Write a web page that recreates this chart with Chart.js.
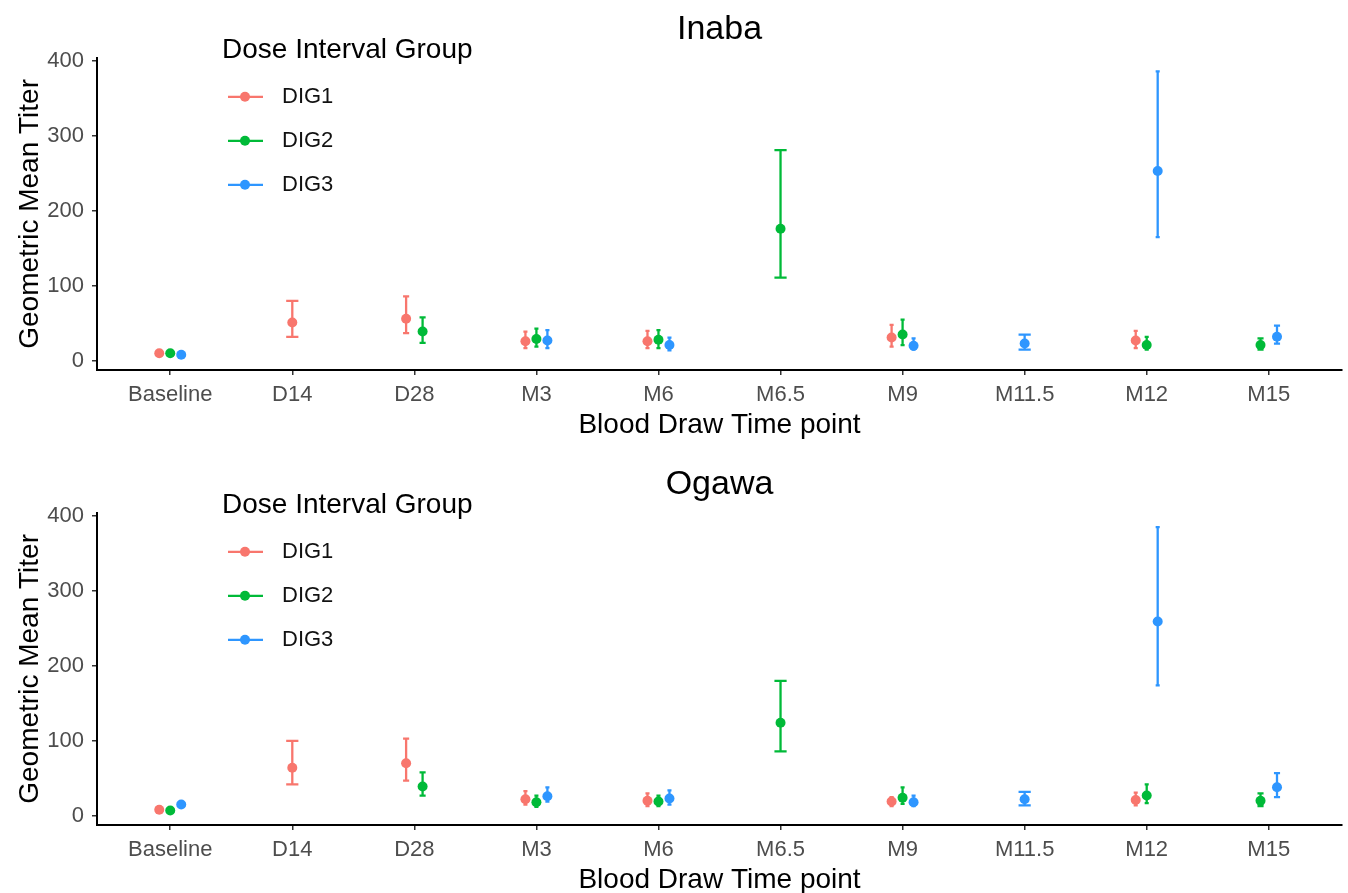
<!DOCTYPE html>
<html>
<head>
<meta charset="utf-8">
<title>Geometric Mean Titer - Inaba / Ogawa</title>
<script src="https://cdn.jsdelivr.net/npm/chart.js@4.4.1/dist/chart.umd.min.js"></script>
<style>
  html, body { margin: 0; padding: 0; background: #fff; overflow: hidden; }
  .panel { width: 1348px; height: 455px; }
</style>
</head>
<body>
<div class="panel"><canvas id="chart_inaba" width="1348" height="455"></canvas></div>
<div class="panel"><canvas id="chart_ogawa" width="1348" height="455"></canvas></div>
<script>

/*--------DATOS-----------*/
var timepoints = ['Baseline','D14','D28','M3','M6','M6.5','M9','M11.5','M12','M15'];
var groups = ['DIG1','DIG2','DIG3'];
var yTicks = [0, 100, 200, 300, 400];

/*--------INABA-----------*/
var inaba_dig1    = [10, 51, 56, 26, 26, null, 31, null, 27, null];
var inaba_dig1_lo = [8, 32, 37, 17, 17, null, 19, null, 17, null];
var inaba_dig1_hi = [12, 80, 86, 39, 40, null, 48, null, 40, null];

var inaba_dig2    = [10, null, 39, 29, 28, 176, 35, null, 21, 21];
var inaba_dig2_lo = [8, null, 24, 19, 17, 111, 21, null, 15, 15];
var inaba_dig2_hi = [12, null, 58, 43, 41, 281, 55, null, 32, 30];

var inaba_dig3    = [8, null, null, 27, 21, null, 20, 23, 253, 32];
var inaba_dig3_lo = [6, null, null, 17, 14, null, 15, 15, 165, 23];
var inaba_dig3_hi = [10, null, null, 41, 31, null, 30, 35, 386, 47];

/*--------OGAWA-----------*/
var ogawa_dig1    = [8, 64, 70, 22, 20, null, 19, null, 21, null];
var ogawa_dig1_lo = [7, 42, 47, 15, 13, null, 13, null, 14, null];
var ogawa_dig1_hi = [10, 100, 103, 33, 30, null, 25, null, 31, null];

var ogawa_dig2    = [7, null, 39, 18, 19, 124, 24, null, 27, 20];
var ogawa_dig2_lo = [6, null, 27, 12, 13, 86, 16, null, 17, 13];
var ogawa_dig2_hi = [9, null, 58, 27, 27, 180, 38, null, 42, 30];

var ogawa_dig3    = [15, null, null, 26, 23, null, 18, 22, 259, 38];
var ogawa_dig3_lo = [13, null, null, 19, 15, null, 13, 14, 174, 25];
var ogawa_dig3_hi = [18, null, null, 38, 34, null, 27, 32, 385, 57];

var colores = ['#F8766D', '#00BA38', '#2E96FF'];
var dodge = 0.27;     // ancho total del dodge (unidades de categoria)
var capWidth = 0.1;   // ancho de la barra de error

var fam = "'Liberation Sans', Arial, Helvetica, sans-serif";
Chart.defaults.font.family = fam;

/*--------DATASETS con dodge como ggplot-----------*/
function buildSets(gmt, lo, hi) {
  return groups.map(function (g, k) {
    var pts = [];
    timepoints.forEach(function (t, i) {
      if (gmt[k][i] == null) return;
      var present = [];
      for (var j = 0; j < groups.length; j++) {
        if (gmt[j][i] != null) present.push(j);
      }
      var n = present.length;
      var r = present.indexOf(k);
      pts.push({ x: i + (r - (n - 1) / 2) * dodge / n, y: gmt[k][i], lo: lo[k][i], hi: hi[k][i], n: n });
    });
    return {
      label: g,
      data: pts,
      backgroundColor: colores[k],
      borderColor: colores[k],
      pointRadius: 5,
      pointBorderWidth: 0,
      showLine: false
    };
  });
}

/*--------PLUGIN BARRAS DE ERROR-----------*/
var errorBars = {
  id: 'errorBars',
  beforeDatasetsDraw: function (chart) {
    var ctx = chart.ctx, xs = chart.scales.x, ys = chart.scales.y;
    ctx.save();
    chart.data.datasets.forEach(function (ds, k) {
      var meta = chart.getDatasetMeta(k);
      ctx.strokeStyle = ds.borderColor;
      ctx.lineWidth = 2.3;
      meta.data.forEach(function (pt, i) {
        var d = ds.data[i];
        var yl = ys.getPixelForValue(d.lo);
        var yh = ys.getPixelForValue(d.hi);
        var half = (xs.getPixelForValue(capWidth / d.n) - xs.getPixelForValue(0)) / 2;
        ctx.beginPath();
        ctx.moveTo(pt.x, yl); ctx.lineTo(pt.x, yh);
        ctx.moveTo(pt.x - half, yl); ctx.lineTo(pt.x + half, yl);
        ctx.moveTo(pt.x - half, yh); ctx.lineTo(pt.x + half, yh);
        ctx.stroke();
      });
    });
    ctx.restore();
  }
};

/*--------PLUGIN LEYENDA DENTRO DEL GRAFICO-----------*/
var insetLegend = {
  id: 'insetLegend',
  afterDraw: function (chart, args, opts) {
    var ctx = chart.ctx, area = chart.chartArea;
    var x0 = area.left + opts.dx, y0 = area.top + opts.dy;
    ctx.save();
    ctx.textBaseline = 'middle';
    ctx.textAlign = 'left';
    ctx.fillStyle = '#000';
    ctx.font = '28px ' + fam;
    ctx.fillText(opts.title, x0, y0);
    ctx.font = '22px ' + fam;
    chart.data.datasets.forEach(function (ds, k) {
      var y = y0 + 47 + k * 44;
      ctx.strokeStyle = ds.borderColor;
      ctx.fillStyle = ds.borderColor;
      ctx.lineWidth = 2.3;
      ctx.beginPath();
      ctx.moveTo(x0 + 6, y); ctx.lineTo(x0 + 41, y);
      ctx.stroke();
      ctx.beginPath();
      ctx.arc(x0 + 23, y, 5, 0, Math.PI * 2);
      ctx.fill();
      ctx.fillStyle = '#111';
      ctx.fillText(ds.label, x0 + 60, y);
    });
    ctx.restore();
  }
};

function makeChart(id, titulo, sets) {
  var ctx = document.getElementById(id);
  return new Chart(ctx, {
    type: 'scatter',
    data: { datasets: sets },
    plugins: [errorBars, insetLegend],
    options: {
      responsive: false,
      animation: false,
      events: [],
      devicePixelRatio: 1,
      layout: { padding: { left: 0, right: 6, top: 0, bottom: 0 } },
      plugins: {
        legend: { display: false },
        tooltip: { enabled: false },
        title: {
          display: true,
          text: titulo,
          fullSize: false,
          color: '#000',
          font: { size: 34, weight: 'normal' },
          padding: { top: 9, bottom: 8 }
        },
        insetLegend: { title: 'Dose Interval Group', dx: 125, dy: -8 }
      },
      scales: {
        x: {
          type: 'linear',
          min: -0.6,
          max: 9.6,
          afterBuildTicks: function (s) {
            s.ticks = timepoints.map(function (t, i) { return { value: i }; });
          },
          afterFit: function (s) { s.height = 85; },
          ticks: {
            callback: function (v) { return timepoints[v]; },
            color: '#4D4D4D',
            font: { size: 22 },
            padding: 7,
            autoSkip: false,
            maxRotation: 0
          },
          grid: { drawOnChartArea: false, drawTicks: true, tickLength: 5, color: '#333', lineWidth: 1.5 },
          border: { display: true, color: '#000', width: 2 },
          title: {
            display: true,
            text: 'Blood Draw Time point',
            color: '#000',
            font: { size: 28 },
            padding: { top: 0, bottom: 13 }
          }
        },
        y: {
          min: -12.3,
          max: 404,
          afterBuildTicks: function (s) {
            s.ticks = yTicks.map(function (v) { return { value: v }; });
          },
          afterFit: function (s) { s.width = 97; },
          ticks: { color: '#4D4D4D', font: { size: 22 }, padding: 8 },
          grid: { drawOnChartArea: false, drawTicks: true, tickLength: 5, color: '#333', lineWidth: 1.5 },
          border: { display: true, color: '#000', width: 2 },
          title: {
            display: true,
            text: 'Geometric Mean Titer',
            color: '#000',
            font: { size: 28 },
            padding: { top: 13, bottom: 0 }
          }
        }
      }
    }
  });
}

makeChart('chart_inaba', 'Inaba', buildSets(
  [inaba_dig1, inaba_dig2, inaba_dig3],
  [inaba_dig1_lo, inaba_dig2_lo, inaba_dig3_lo],
  [inaba_dig1_hi, inaba_dig2_hi, inaba_dig3_hi]
));

makeChart('chart_ogawa', 'Ogawa', buildSets(
  [ogawa_dig1, ogawa_dig2, ogawa_dig3],
  [ogawa_dig1_lo, ogawa_dig2_lo, ogawa_dig3_lo],
  [ogawa_dig1_hi, ogawa_dig2_hi, ogawa_dig3_hi]
));

</script>
</body>
</html>
